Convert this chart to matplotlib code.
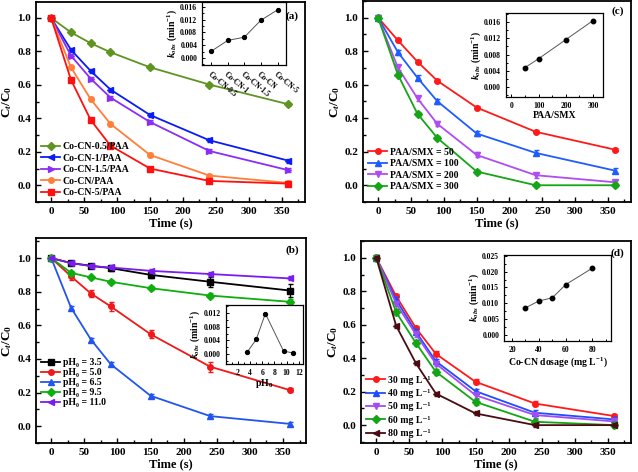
import numpy as np
import matplotlib
matplotlib.use("Agg")
import matplotlib.pyplot as plt
from matplotlib.ticker import MultipleLocator

plt.rcParams['font.family'] = ['Liberation Serif', 'DejaVu Serif']
plt.rcParams['font.weight'] = 'bold'
plt.rcParams['axes.labelweight'] = 'bold'
plt.rcParams['mathtext.fontset'] = 'custom'
plt.rcParams['mathtext.rm'] = 'Liberation Serif:bold'
plt.rcParams['mathtext.it'] = 'Liberation Serif:italic:bold'
plt.rcParams['mathtext.bf'] = 'Liberation Serif:bold'

# ---- data ----
time = [0, 30, 60, 90, 150, 240, 360]

# (a) catalysts
a_labels = ['Co-CN-0.5/PAA', 'Co-CN-1/PAA', 'Co-CN-1.5/PAA', 'Co-CN/PAA', 'Co-CN-5/PAA']
a_vals = [
    [1.0, 0.914, 0.849, 0.795, 0.705, 0.602, 0.484],
    [1.0, 0.810, 0.683, 0.572, 0.420, 0.269, 0.147],
    [1.0, 0.775, 0.637, 0.524, 0.378, 0.205, 0.090],
    [1.0, 0.705, 0.514, 0.367, 0.181, 0.058, 0.014],
    [1.0, 0.631, 0.390, 0.237, 0.100, 0.026, 0.010],
]
a_err = [0.01, 0.012, 0.012, 0.01, 0.008]
a_colors = ['#5f9421', '#0a1cf5', '#8a2ef5', '#ff7f3a', '#ff1010']
a_markers = ['D', '<', '>', 'o', 's']
a_inset_names = ['Co-CN-0.5', 'Co-CN-1', 'Co-CN-1.5', 'Co-CN', 'Co-CN-5']
a_inset_k = [0.0021, 0.0055, 0.0065, 0.0118, 0.0150]

# (b) pH
b_labels = ['pH\u2080 = 3.5', 'pH\u2080 = 5.0', 'pH\u2080 = 6.5', 'pH\u2080 = 9.5', 'pH\u2080 = 11.0']
b_vals = [
    [1.0, 0.970, 0.954, 0.940, 0.900, 0.859, 0.807],
    [1.0, 0.891, 0.789, 0.712, 0.547, 0.354, 0.215],
    [1.0, 0.704, 0.515, 0.368, 0.181, 0.060, 0.014],
    [1.0, 0.912, 0.885, 0.859, 0.821, 0.777, 0.740],
    [1.0, 0.970, 0.952, 0.944, 0.924, 0.905, 0.879],
]
b_err = [
    [0, 0.01, 0.01, 0.015, 0.02, 0.03, 0.04],
    [0, 0.02, 0.02, 0.025, 0.025, 0.03, 0.012],
    [0, 0.012, 0.012, 0.012, 0.012, 0.01, 0.01],
    [0, 0.01, 0.01, 0.01, 0.01, 0.015, 0.015],
    [0, 0.01, 0.01, 0.012, 0.01, 0.01, 0.012],
]
b_colors = ['#000000', '#f01818', '#2255ee', '#0fae0f', '#7a1cf0']
b_markers = ['s', 'o', '^', 'D', '<']
b_inset_ph = [3.5, 5.0, 6.5, 9.5, 11.0]
b_inset_k = [0.0006, 0.0043, 0.0118, 0.0009, 0.0004]

# (c) PAA/SMX ratio
c_labels = ['PAA/SMX = 50', 'PAA/SMX = 100', 'PAA/SMX = 200', 'PAA/SMX = 300']
c_vals = [
    [1.0, 0.865, 0.737, 0.624, 0.464, 0.319, 0.213],
    [1.0, 0.795, 0.641, 0.502, 0.309, 0.193, 0.088],
    [1.0, 0.703, 0.518, 0.367, 0.181, 0.060, 0.018],
    [1.0, 0.661, 0.426, 0.283, 0.082, 0.0, 0.0],
]
c_err = [0.01, 0.015, 0.015, 0.012]
c_colors = ['#ff1a1a', '#1f5cff', '#b04df2', '#16a516']
c_markers = ['o', '^', 'v', 'D']
c_inset_ratio = [50, 100, 200, 300]
c_inset_k = [0.0048, 0.0070, 0.0117, 0.0164]

# (d) Co-CN dosage
d_labels = ['30 mg L\u207b\u00b9', '40 mg L\u207b\u00b9', '50 mg L\u207b\u00b9',
            '60 mg L\u207b\u00b9', '80 mg L\u207b\u00b9']
d_vals = [
    [1.0, 0.771, 0.580, 0.426, 0.259, 0.129, 0.054],
    [1.0, 0.749, 0.558, 0.382, 0.203, 0.074, 0.034],
    [1.0, 0.727, 0.542, 0.367, 0.179, 0.060, 0.022],
    [1.0, 0.675, 0.490, 0.319, 0.139, 0.020, 0.0],
    [1.0, 0.594, 0.369, 0.189, 0.070, 0.0, 0.0],
]
d_err = [0.015, 0.015, 0.015, 0.018, 0.012]
d_colors = ['#ff1a1a', '#1f4cff', '#a24df2', '#14a514', '#4a0c12']
d_markers = ['o', '^', 'v', 'D', '<']
d_inset_dose = [30, 40, 50, 60, 80]
d_inset_k = [0.0085, 0.0107, 0.0117, 0.0159, 0.0212]

fig = plt.figure(figsize=(6.38, 4.72), dpi=100)


def style_main(ax, ylim):
    ax.set_xlim(-23, 385)
    ax.set_ylim(*ylim)
    ax.xaxis.set_major_locator(MultipleLocator(50))
    ax.xaxis.set_minor_locator(MultipleLocator(25))
    ax.yaxis.set_minor_locator(MultipleLocator(0.1))
    ax.set_yticks([0.0, 0.2, 0.4, 0.6, 0.8, 1.0])
    ax.set_yticklabels(['0.0', '0.2', '0.4', '0.6', '0.8', '1.0'])
    ax.tick_params(which='both', direction='in', labelsize=8, width=1.0)
    ax.tick_params(which='major', length=3.5)
    ax.tick_params(which='minor', length=2)
    for s in ax.spines.values():
        s.set_linewidth(1.3)
    ax.set_xlabel('Time (s)', fontsize=9, labelpad=1)
    ax.set_ylabel('C$_t$/C$_0$', fontsize=9.5, labelpad=2)


def draw_series(ax, vals, errs, colors, markers, labels, anchor, spacing=0.25):
    for v, e, c, m, lab in zip(vals, errs, colors, markers, labels):
        ax.errorbar(time, v, yerr=e, fmt='none', ecolor=c, capsize=1.8, elinewidth=0.9)
        ax.plot(time, v, color=c, marker=m, markersize=4, lw=1.3, label=lab)
    ax.legend(loc='lower left', frameon=False, fontsize=7, handlelength=2.0,
              labelspacing=spacing, borderpad=0.3, handletextpad=0.25,
              borderaxespad=0.2, bbox_to_anchor=anchor)


def style_inset(ax):
    ax.tick_params(which='both', direction='in', labelsize=5.5, width=0.7)
    ax.tick_params(which='major', length=2.5)
    ax.tick_params(which='minor', length=1.5)
    for s in ax.spines.values():
        s.set_linewidth(0.9)
    ax.set_ylabel('$k_{obs}$ (min$^{-1}$)', fontsize=7, labelpad=1)


# (a)
ax_a = fig.add_axes([0.0564, 0.572, 0.4216, 0.424])
draw_series(ax_a, a_vals, a_err, a_colors, a_markers, a_labels, (0.0, 0.0))
style_main(ax_a, (-0.1, 1.096))
ax_a.text(0.975, 0.955, '(a)', transform=ax_a.transAxes, ha='right', va='top', fontsize=8)

ins_a = fig.add_axes([0.3166, 0.862, 0.1314, 0.134])
ins_a.plot(range(len(a_inset_k)), a_inset_k, color='#555555', lw=0.7, marker='o',
           markersize=2.8, mfc='black', mec='black')
ins_a.set_xlim(-0.55, 4.5)
ins_a.set_ylim(-0.0022, 0.0175)
ins_a.set_yticks([0.0, 0.004, 0.008, 0.012, 0.016])
ins_a.yaxis.set_minor_locator(MultipleLocator(0.002))
ins_a.set_xticks(range(len(a_inset_names)))
ins_a.set_xticklabels(a_inset_names, rotation=-40, ha='left', va='top',
                      rotation_mode='anchor')
style_inset(ins_a)

# (c)
ax_c = fig.add_axes([0.569, 0.572, 0.42, 0.426])
draw_series(ax_c, c_vals, c_err, c_colors, c_markers, c_labels, (0.0, 0.03))
style_main(ax_c, (-0.1, 1.1))
ax_c.text(0.975, 0.975, '(c)', transform=ax_c.transAxes, ha='right', va='top', fontsize=8)

ins_c = fig.add_axes([0.793, 0.794, 0.152, 0.178])
ins_c.plot(c_inset_ratio, c_inset_k, color='#555555', lw=0.7, marker='o',
           markersize=3.2, mfc='black', mec='black')
ins_c.set_xlim(-20, 336)
ins_c.set_ylim(-0.0025, 0.0182)
ins_c.set_xticks([0, 100, 200, 300])
ins_c.xaxis.set_minor_locator(MultipleLocator(50))
ins_c.set_yticks([0.0, 0.004, 0.008, 0.012, 0.016])
ins_c.yaxis.set_minor_locator(MultipleLocator(0.002))
style_inset(ins_c)
ins_c.set_xlabel('PAA/SMX', fontsize=7, labelpad=1)

# (b)
ax_b = fig.add_axes([0.0564, 0.0614, 0.4236, 0.4346])
draw_series(ax_b, b_vals, b_err, b_colors, b_markers, b_labels, (0.0, 0.15), spacing=0.1)
style_main(ax_b, (-0.1, 1.12))
ax_b.text(0.975, 0.965, '(b)', transform=ax_b.transAxes, ha='right', va='top', fontsize=8)

ins_b = fig.add_axes([0.354, 0.229, 0.121, 0.125])
ins_b.plot(b_inset_ph, b_inset_k, color='#555555', lw=0.7, marker='o',
           markersize=2.8, mfc='black', mec='black')
ins_b.set_xlim(0, 12.7)
ins_b.set_ylim(-0.0028, 0.0143)
ins_b.set_xticks([2, 4, 6, 8, 10, 12])
ins_b.xaxis.set_minor_locator(MultipleLocator(1))
ins_b.set_yticks([0.0, 0.004, 0.008, 0.012])
ins_b.yaxis.set_minor_locator(MultipleLocator(0.002))
style_inset(ins_b)
ins_b.set_xlabel('pH$_0$', fontsize=7, labelpad=0)

# (d)
ax_d = fig.add_axes([0.566, 0.0614, 0.423, 0.4276])
draw_series(ax_d, d_vals, d_err, d_colors, d_markers, d_labels, (0.0, 0.0), spacing=0.45)
style_main(ax_d, (-0.107, 1.1))
ax_d.text(0.975, 0.965, '(d)', transform=ax_d.transAxes, ha='right', va='top', fontsize=8)

ins_d = fig.add_axes([0.790, 0.278, 0.168, 0.182])
ins_d.plot(d_inset_dose, d_inset_k, color='#555555', lw=0.7, marker='o',
           markersize=3.2, mfc='black', mec='black')
ins_d.set_xlim(14, 94)
ins_d.set_ylim(-0.002, 0.0254)
ins_d.set_xticks([20, 40, 60, 80])
ins_d.xaxis.set_minor_locator(MultipleLocator(10))
ins_d.set_yticks([0.0, 0.005, 0.010, 0.015, 0.020, 0.025])
ins_d.yaxis.set_minor_locator(MultipleLocator(0.0025))
style_inset(ins_d)
ins_d.set_xlabel('Co-CN dosage (mg L$^{-1}$)', fontsize=7, labelpad=1)

fig.savefig('out.png', dpi=100)
